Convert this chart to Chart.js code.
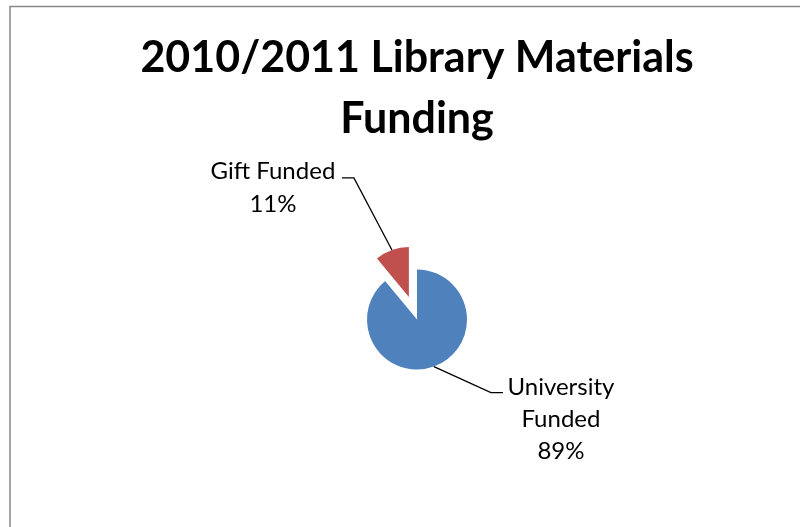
<!DOCTYPE html>
<html>
<head>
<meta charset="utf-8">
<title>2010/2011 Library Materials Funding</title>
<script src="https://cdn.jsdelivr.net/npm/chart.js@4/dist/chart.umd.min.js"></script>
<style>
  html, body { margin: 0; padding: 0; background: #fff; }
  canvas { display: block; }
</style>
</head>
<body>
<canvas id="funding-chart" width="800" height="527"></canvas>
<script>
// Funding split for the year
const categories = ['University Funded', 'Gift Funded'];
const shares = [89, 11];
const sliceColors = ['#4F81BD', '#C0504D'];
const explode = [0, 96];               // Chart.js arc offset per slice

const titleLines = ['2010/2011 Library Materials', 'Funding'];

// Label text per slice, split onto lines like the office-style callouts
const labelLines = [
  ['University', 'Funded', shares[0] + '%'],
  ['Gift Funded', shares[1] + '%']
];

// Leader geometry: bend point relative to the slice rim, then a short flat run
const leaderBend = [[57, 26], [-38, -72]];
const leaderRun = [12, -12];
const labelShift = [[58, 2], [-69, 1]]; // text centre / first baseline from leader end
const labelPitch = [32, 33];

const fonts = {
  body: "Lato, 'Liberation Sans', sans-serif"
};

// How far Chart.js pushes an offset arc out, and how much radius it adds
function arcGrowth(arc) {
  const o = (arc.options.offset || 0) / 4;
  const fix = 1 - Math.sin(Math.min(Math.PI, arc.circumference || 0));
  return { shift: o, grow: o * fix };
}

/**
 * Office-style explosion: Chart.js grows an offset arc a bit and trims its
 * angle, so pull the radius back and restore the sweep.
 */
const explodePlugin = {
  id: 'explodeSlices',
  afterDatasetUpdate(chart, args) {
    args.meta.data.forEach(arc => {
      const { grow } = arcGrowth(arc);
      if (!grow) return;
      const r = arc.outerRadius;
      const widen = grow / (Math.PI * r) / 2;
      arc.outerRadius = r - grow;
      arc.startAngle -= widen;
      arc.endAngle += widen;
    });
  }
};

/**
 * Grey frame round the chart (only top and left edges fall on the canvas)
 */
const framePlugin = {
  id: 'frame',
  beforeDraw(chart) {
    const ctx = chart.ctx;
    ctx.save();
    ctx.strokeStyle = '#888888';
    ctx.lineWidth = 1.5;
    ctx.strokeRect(10, 6.5, chart.width + 20, chart.height + 20);
    ctx.restore();
  }
};

/**
 * Category + percent callouts with leader lines
 */
const calloutPlugin = {
  id: 'callouts',
  afterDatasetsDraw(chart) {
    const ctx = chart.ctx;
    const meta = chart.getDatasetMeta(0);
    ctx.save();
    ctx.strokeStyle = '#000';
    ctx.lineWidth = 1.3;
    ctx.fillStyle = '#000';
    ctx.font = '24px ' + fonts.body;
    ctx.textAlign = 'center';
    ctx.textBaseline = 'alphabetic';

    meta.data.forEach((arc, i) => {
      const { x, y, startAngle, endAngle, outerRadius } = arc;
      const { shift, grow } = arcGrowth(arc);
      const mid = (startAngle + endAngle) / 2;
      const rim = shift + outerRadius + grow;

      const ax = x + Math.cos(mid) * rim;
      const ay = y + Math.sin(mid) * rim;
      const bx = ax + leaderBend[i][0];
      const by = ay + leaderBend[i][1];
      const ex = bx + leaderRun[i];

      ctx.beginPath();
      ctx.moveTo(ax, ay);
      ctx.lineTo(bx, by);
      ctx.lineTo(ex, by);
      ctx.stroke();

      const tx = ex + labelShift[i][0];
      const ty = by + labelShift[i][1];
      labelLines[i].forEach((line, k) => {
        ctx.fillText(line, tx, ty + k * labelPitch[i]);
      });
    });
    ctx.restore();
  }
};

const ctx = document.getElementById('funding-chart');

new Chart(ctx, {
  type: 'pie',
  data: {
    labels: categories,
    datasets: [{
      data: shares,
      backgroundColor: sliceColors,
      borderWidth: 0,
      offset: explode
    }]
  },
  options: {
    responsive: false,
    animation: false,
    events: [],
    radius: 50,
    rotation: 0,
    layout: {
      padding: { left: 34, right: 0, top: 0, bottom: 48 }
    },
    plugins: {
      legend: { display: false },
      tooltip: { enabled: false },
      title: {
        display: true,
        text: titleLines,
        color: '#000',
        font: {
          family: fonts.body,
          size: 43,
          weight: 'bold',
          lineHeight: 1.42
        },
        padding: { top: 28, bottom: 10 }
      }
    }
  },
  plugins: [explodePlugin, framePlugin, calloutPlugin]
});
</script>
</body>
</html>
